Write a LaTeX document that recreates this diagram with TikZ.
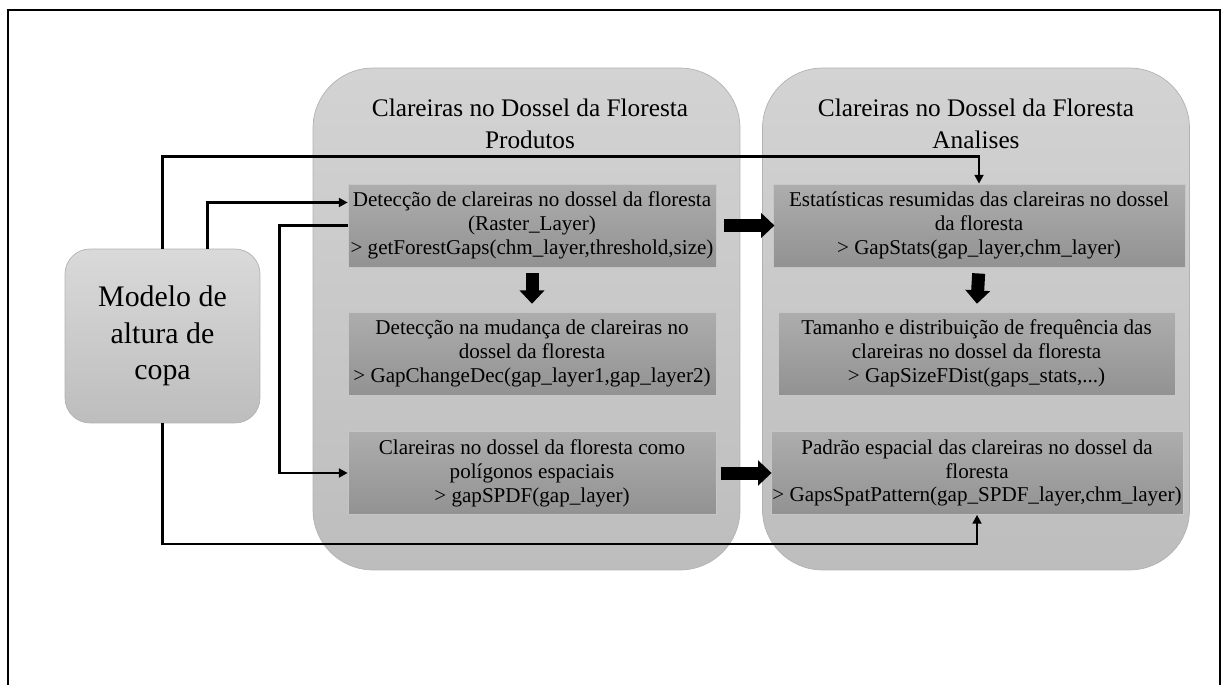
\documentclass[tikz,border=0pt]{standalone}
\usepackage{fontspec}
\setmainfont{Liberation Serif}
\usetikzlibrary{arrows.meta,calc}

\definecolor{painelTopo}{HTML}{D3D3D3}
\definecolor{painelBase}{HTML}{BDBDBD}
\definecolor{caixaTopo}{HTML}{ADADAD}
\definecolor{caixaBase}{HTML}{929292}

\tikzset{
  painel/.style={rounded corners=1.2cm, top color=painelTopo, bottom color=painelBase, draw=gray!60, minimum width=8.54cm, minimum height=10.04cm},
  caixa/.style={top color=caixaTopo, bottom color=caixaBase, draw=gray!45, minimum height=1.66cm, align=center, font=\fontsize{12}{13.6}\selectfont, inner sep=0pt},
  titulo/.style={align=center, font=\fontsize{14.4}{18.2}\selectfont},
  conn/.style={line width=1.4pt, -{Triangle[length=5pt,width=5pt]}},
  bloco/.style={line width=7.4pt, -{Triangle[length=7.6pt,width=13.8pt]}}
}

\begin{document}
\begin{tikzpicture}[x=0.02cm, y=-0.02cm]
    \useasboundingbox (0,0) rectangle (1222,685);
    \draw[line width=1.5pt] (8,690) -- (8,10) -- (1220,10) -- (1220,690); % moldura

    % paineis
    \node[painel] (prod) at (526.5,319) {};
    \node[painel] (anal) at (976,319) {};
    \node[titulo] (tprod) at (530,124) {Clareiras no Dossel da Floresta\\Produtos};
    \node[titulo] (tanal) at (976,124) {Clareiras no Dossel da Floresta\\Analises};

    % modelo de altura de copa
    \node[rounded corners=0.5cm, top color=painelTopo!85!white, bottom color=painelBase, draw=gray!60,
          minimum width=3.9cm, minimum height=3.48cm, align=center,
          font=\fontsize{17}{20.6}\selectfont] (mod) at (162.5,336) {Modelo de\\altura de\\copa};

    % produtos
    \node[caixa, minimum width=7.36cm] (deteccao) at (532,225.5) {Detecção de clareiras no dossel da floresta\\(Raster\_Layer)\\> getForestGaps(chm\_layer,threshold,size)};
    \node[caixa, minimum width=7.36cm] (mudanca) at (532,353.5) {Detecção na mudança de clareiras no\\dossel da floresta\\> GapChangeDec(gap\_layer1,gap\_layer2)};
    \node[caixa, minimum width=7.36cm] (poligonos) at (532,473) {Clareiras no dossel da floresta como\\polígonos espaciais\\> gapSPDF(gap\_layer)};

    % analises
    \node[caixa, minimum width=8.24cm] (stats) at (979,225.5) {Estatísticas resumidas das clareiras no dossel\\da floresta\\> GapStats(gap\_layer,chm\_layer)};
    \node[caixa, minimum width=7.94cm] (tamanho) at (976.5,353.5) {Tamanho e distribuição de frequência das\\clareiras no dossel da floresta\\> GapSizeFDist(gaps\_stats,...)};
    \node[caixa, minimum width=8.24cm] (padrao) at (977,473) {Padrão espacial das clareiras no dossel da\\floresta\\> GapsSpatPattern(gap\_SPDF\_layer,chm\_layer)};

    % setas finas
    \draw[conn] (mod.north) |- ($(stats.north)+(0,-27)$) -- (stats.north);
    \draw[conn] ($(mod.north)+(45,0)$) |- ($(deteccao.west)+(0,-23)$);
    \draw[conn] (deteccao.west) -- ++(-68,0) |- (poligonos.west);
    \draw[conn] (mod.south) |- ($(padrao.south)+(0,29)$) -- (padrao.south);

    % setas largas
    \draw[bloco, shorten <=4.5pt, shorten >=-1pt] (deteccao.east) -- (stats.west);
    \draw[bloco, shorten <=3.5pt, shorten >=4.5pt] (deteccao.south) -- (mudanca.north);
    \draw[bloco, shorten <=3.5pt, shorten >=4.5pt] (stats.south) -- (tamanho.north);
    \draw[bloco, shorten <=2.5pt, shorten >=-0.5pt] (poligonos.east) -- (padrao.west);
\end{tikzpicture}
\end{document}
